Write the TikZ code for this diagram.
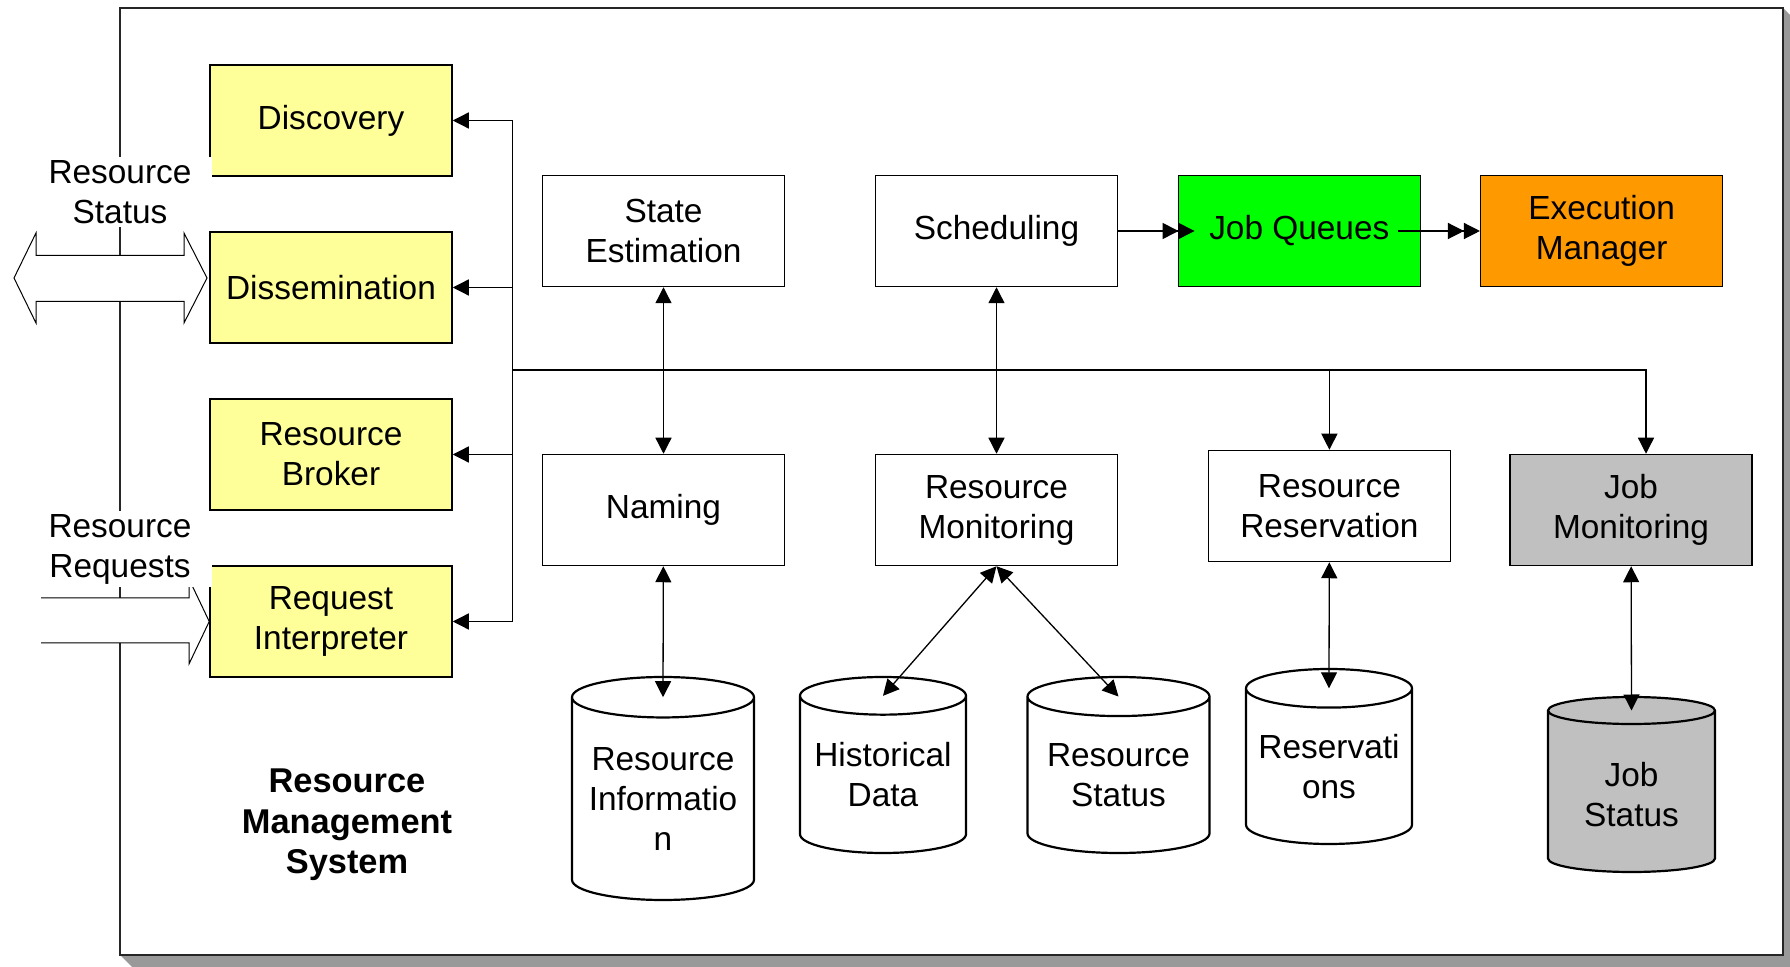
\documentclass[tikz,border=0pt]{standalone}
\usepackage{fontspec}
\setmainfont{Liberation Sans}
\usepackage{tikz}
\usetikzlibrary{positioning, arrows.meta, shapes.geometric, calc}
\definecolor{rmsyellow}{HTML}{FFFF99}
\definecolor{rmsgreen}{HTML}{00FF00}
\definecolor{rmsorange}{HTML}{FF9900}
\definecolor{rmsgray}{HTML}{C0C0C0}
\definecolor{rmsshadow}{HTML}{999999}
\tikzset{>={Triangle[length=8pt,width=8pt]},
node distance=83.5pt,
every node/.style={font=\fontsize{16.7}{20}\selectfont},
box/.style={draw, line width=0.75pt, minimum width=121pt, minimum height=55.5pt, align=center},
yellowbox/.style={box, fill=rmsyellow},
db/.style={cylinder, shape border rotate=90, aspect=0.25, draw, line width=1.1pt, align=center, anchor=shape center, text depth=4pt},
hollow/.style={draw, fill=white, line width=0.5pt},
sidetext/.style={fill=white, align=center, minimum width=92pt, inner sep=1.5pt}}

\begin{document}
\begin{tikzpicture}[x=0.5pt, y=-0.5pt, line width=0.65pt]
\useasboundingbox (0,0) rectangle (1790,967);
\fill[rmsshadow] (1783,8) -- (1795,20) -- (1795,967) -- (132,967) -- (120,955) -- cycle;
\draw[black!85, line width=1pt, fill=white] (120,8) rectangle (1783,955);

\node[yellowbox] (disc) at (331,120.5) {Discovery};
\node[yellowbox, below of=disc] (diss) {Dissemination};
\node[yellowbox, below of=diss] (broker) {Resource\\Broker};
\node[yellowbox, below of=broker] (reqi) {Request\\Interpreter};
\node[box] (se) at (663.5,231) {State\\Estimation};
\node[box] (sched) at (996.5,231) {Scheduling};
\node[box, fill=rmsgreen] (jq) at (1299.3,231) {Job Queues};
\node[box, fill=rmsorange] (em) at (1601.7,231) {Execution\\Manager};
\node[box, below of=se, node distance=139.5pt] (nam) {Naming};
\node[box, below of=sched, node distance=139.5pt] (rm) {Resource\\Monitoring};
\node[box] (rr) at (1329.4,506) {Resource\\Reservation};
\node[box, fill=rmsgray] (jm) at (1631,510) {Job\\Monitoring};
\node[db, minimum width=91pt, minimum height=111.5pt] (ri) at (663,788.5) {Resource\\Informatio\\n};
\node[db, minimum width=83pt, minimum height=88pt] (hd) at (883,765) {Historical\\Data};
\node[db, minimum width=91pt, minimum height=88pt] (rs) at (1118.5,765) {Resource\\Status};
\node[db, minimum width=83pt, minimum height=87.5pt] (res) at (1329,756.5) {Reservati\\ons};
\node[db, fill=rmsgray, text depth=0pt, minimum width=83.5pt, minimum height=87.5pt] (js) at (1631.5,784.5) {Job\\Status};

\coordinate (bus) at (512.5,370);
\draw[->] (bus) |- (disc.east);
\draw[->] (bus) |- (diss.east);
\draw[->] (bus) |- (broker.east);
\draw[->] (bus) |- (reqi.east);
\draw[->] (bus) -| (rr.north);
\draw[->] (bus) -| ([xshift=7.5pt]jm.north);
\draw[<->] (se) -- (nam);
\draw[<->] (sched) -- (rm);
\draw[<->] (nam) -- ($(ri.before top)!.5!(ri.after top)$);
\draw[<->] (rm.south) -- ($(hd.before top)!.5!(hd.after top)$);
\draw[<->] (rm.south) -- ($(rs.before top)!.5!(rs.after top)$);
\draw[<->] (rr) -- ($(res.before top)!.5!(res.after top)$);
\draw[<->] (jm) -- ($(js.before top)!.5!(js.after top)$);
\draw[->>, shorten >=-8.5pt] (sched) -- (jq);
\draw[->>] ([xshift=-11.5pt]jq.east) -- (em);

\draw[hollow] (14,278) -- (36,233) -- (36,255.5) -- (184,255.5) -- (184,233) -- (207,278)
  -- (184,323) -- (184,301.5) -- (36,301.5) -- (36,323) -- cycle;
\draw[hollow] (41,598) -- (189,598) -- (189,579) -- (reqi.west) -- (189,664) -- (189,643) -- (41,643);
\node[sidetext] (status) at (120,192) {Resource\\Status};
\node[sidetext] (requests) at (120,549) {Resource\\Requests};
\node[font=\fontsize{17.2}{20.3}\selectfont\bfseries, align=center] (rms) at (347,825) {Resource\\Management\\System};
\end{tikzpicture}
\end{document}
